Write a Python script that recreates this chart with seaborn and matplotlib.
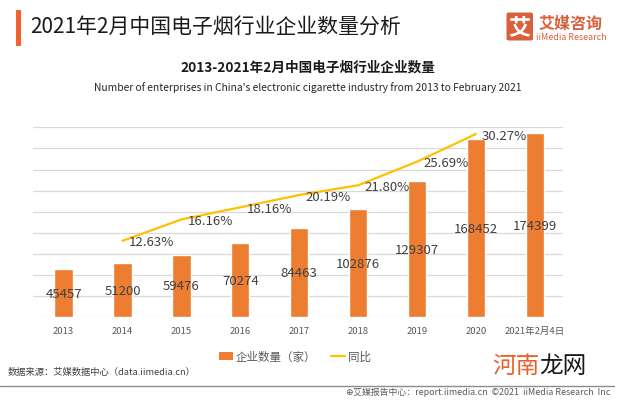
import numpy as np
import pandas as pd
import matplotlib
matplotlib.use("Agg")
import matplotlib.pyplot as plt
import seaborn as sns
from matplotlib.patches import Patch, Rectangle, FancyBboxPatch
from matplotlib.lines import Line2D

# ---------------- data ----------------
categories = ["2013", "2014", "2015", "2016", "2017", "2018", "2019", "2020", "2021年2月4日"]
counts = [45457, 51200, 59476, 70274, 84463, 102876, 129307, 168452, 174399]
growth_years = ["2014", "2015", "2016", "2017", "2018", "2019", "2020"]
growth_pct = [12.63, 16.16, 18.16, 20.19, 21.80, 25.69, 30.27]

title = "2021年2月中国电子烟行业企业数量分析"
subtitle_cn = "2013-2021年2月中国电子烟行业企业数量"
subtitle_en = "Number of enterprises in China's electronic cigarette industry from 2013 to February 2021"
legend_bar = "企业数量（家）"
legend_line = "同比"
source_text = "数据来源：艾媒数据中心（data.iimedia.cn）"
footer_text = "艾媒报告中心：report.iimedia.cn  ©2021  iiMedia Research  Inc"

# ---------------- style ----------------
sns.set_theme(style="white")
plt.rcParams['font.family'] = ['Noto Sans CJK SC', 'DejaVu Sans']

W, H = 629, 402
fig = plt.figure(figsize=(W / 100, H / 100), dpi=100)
fig.patch.set_facecolor("white")

def fx(x):
    return x / W

def fy(y):
    return 1 - y / H

ax = fig.add_axes([fx(33), fy(318.3), 530 / W, 190 / H])

bar_color = "#ED7D31"
line_color = "#FFC000"

df = pd.DataFrame({"cat": categories, "count": counts})
sns.barplot(data=df, x="cat", y="count", color=bar_color, width=0.31,
            saturation=1, ax=ax, order=categories)

ax.set_ylim(0, 180000)
ax.set_yticks(np.arange(0, 180001, 20000))
ax.set_xlim(-0.52, 8.48)
ax.yaxis.grid(True, color="#d9d9d9", linewidth=0.9)
ax.set_axisbelow(True)
for s in ax.spines.values():
    s.set_visible(False)
ax.set_xlabel("")
ax.set_ylabel("")

for cont in ax.containers:
    ax.bar_label(cont, labels=[str(v) for v in counts], label_type="center",
                 fontsize=9.5, color="#404040")

# line on twin axis
ax2 = ax.twinx()
line_x = [categories.index(y) for y in growth_years]
ldf = pd.DataFrame({"x": line_x, "pct": growth_pct})
sns.lineplot(data=ldf, x="x", y="pct", color=line_color, linewidth=1.6, ax=ax2)
ax2.set_ylim(0, 31.37)
ax2.set_xlim(-0.52, 8.48)
ax2.set_yticks([])
ax2.set_ylabel("")
ax2.set_xlabel("")
ax2.grid(False)
for s in ax2.spines.values():
    s.set_visible(False)
for xv, v in zip(line_x, growth_pct):
    ax2.annotate(f"{v:.2f}%", (xv, v), xytext=(4.5, -0.8), textcoords="offset points",
                 ha="left", va="center", fontsize=9.5, color="#404040")

# tick styling (after twinx, which re-enables left ticks)
ax.tick_params(axis="y", which="both", left=False, right=False, labelleft=False,
               length=0)
ax2.tick_params(axis="y", which="both", left=False, right=False, labelright=False,
                length=0)
ax.tick_params(axis="x", length=0, pad=6, labelsize=6.8, labelcolor="#595959")

# legend
handles = [Patch(facecolor=bar_color, edgecolor="none"),
           Line2D([0], [0], color=line_color, linewidth=1.6)]
fig.legend(handles, [legend_bar, legend_line], loc="center",
           bbox_to_anchor=(fx(295), fy(357.5)), ncol=2, frameon=False,
           fontsize=8.3, labelcolor="#595959", handlelength=1.2, handleheight=0.75,
           handletextpad=0.25, columnspacing=1.3)

# header
fig.patches.append(Rectangle((fx(15.7), fy(46.7)), 5 / W, 35.7 / H,
                             transform=fig.transFigure, facecolor="#F2612F",
                             edgecolor="none"))
fig.text(fx(30.7), fy(28), title, ha="left", va="center", fontsize=15,
         color="#1a1a1a")

# logo
fig.patches.append(FancyBboxPatch((fx(506.5), fy(41.5)), 26.5 / W, 28 / H,
                                  boxstyle="round,pad=0,rounding_size=0.004",
                                  transform=fig.transFigure, facecolor="#D9603B",
                                  edgecolor="none"))
fig.text(fx(519.7), fy(27.5), "艾", ha="center", va="center", fontsize=16,
         fontweight="bold", color="white")
fig.text(fx(570.8), fy(23.7), "艾媒咨询", ha="center", va="center", fontsize=11.5,
         fontweight="bold", color="#D9603B")
fig.text(fx(571), fy(37), "iiMedia Research", ha="center", va="center",
         fontsize=6.4, color="#D9603B")

# subtitles
fig.text(fx(307.7), fy(67), subtitle_cn, ha="center", va="center", fontsize=9.8,
         fontweight="bold", color="#1a1a1a")
fig.text(fx(307.8), fy(87.3), subtitle_en, ha="center", va="center", fontsize=7.4,
         color="#262626")

# source & footer
fig.text(fx(8), fy(372), source_text, ha="left", va="center", fontsize=6.7,
         color="#404040")
fig.lines.append(Line2D([0, fx(614)], [fy(387.3), fy(387.3)], transform=fig.transFigure,
                        color="#8c8c8c", linewidth=1.0))
fig.text(fx(610), fy(392.7), footer_text, ha="right", va="center", fontsize=6.4,
         color="#595959")
fig.text(fx(349), fy(392.7), "⊕", ha="center", va="center", fontsize=6.5,
         color="#595959", family=["DejaVu Sans"])

# watermark
fig.text(fx(492.7), fy(366.7), "河南", ha="left", va="center", fontsize=17,
         color="#E8612C")
fig.text(fx(539.7), fy(366.7), "龙网", ha="left", va="center", fontsize=17,
         color="#1a1a1a")

fig.savefig("out.png", dpi=100, facecolor="white")
